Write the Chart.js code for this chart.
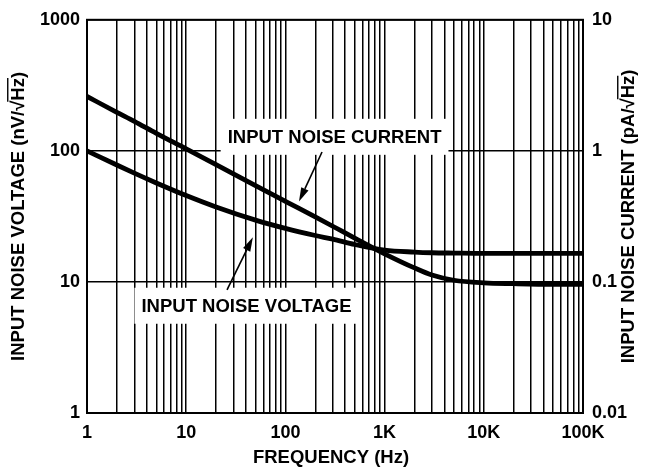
<!DOCTYPE html>
<html><head><meta charset="utf-8">
<script src="https://cdn.jsdelivr.net/npm/chart.js@4"></script>
<style>html,body{margin:0;padding:0;background:#fff}#wrap{width:650px;height:468px;position:relative}</style>
</head><body><div id="wrap"><canvas id="c" width="650" height="468" style="width:650px;height:468px"></canvas></div>
<script>
// ---- data ----
const frequencies = [1,2,3,5,10,20,50,100,200,300,500,1000,2000,3000,5000,10000,20000,50000,100000];
const noiseVoltage = [100,78,67.6,56.9,45.6,37.3,29.6,25.6,22.6,21.2,19.3,17.5,16.9,16.7,16.6,16.5,16.5,16.5,16.5]; // nV/√Hz
const noiseCurrent = [2.6,1.97,1.68,1.36,1.035,0.785,0.543,0.412,0.313,0.266,0.216,0.164,0.128,0.113,0.103,0.0984,0.097,0.096,0.096]; // pA/√Hz
const xTickValues = [1,10,100,1000,10000,100000];
const xTickLabels = ['1','10','100','1K','10K','100K'];
const yLeftTickValues = [1,10,100,1000];
const yLeftTickLabels = ['1','10','100','1000'];
const yRightTickValues = [0.01,0.1,1,10];
const yRightTickLabels = ['0.01','0.1','1','10'];
const xTitle = 'FREQUENCY (Hz)';
const yLeftTitle = 'INPUT NOISE VOLTAGE (nV/\u221AHz)';
const yRightTitle = 'INPUT NOISE CURRENT (pA/\u221AHz)';
const currentLabel = {text:'INPUT NOISE CURRENT', f:313, v:128, arrowFrom:[234,98], arrowTo:[137,41]};
const voltageLabel = {text:'INPUT NOISE VOLTAGE', f:40.5, v:6.58, arrowFrom:[25.8,8.7], arrowTo:[47,21.9]};

// grid positions (every integer multiple within each decade)
const xGridValues = [];
for (let d = 1; d < 100000; d *= 10) for (let m = 1; m < 10; m++) xGridValues.push(m*d);
xGridValues.push(100000);

const FAM = '"Liberation Sans", Arial, Helvetica, sans-serif';
const tickFont = {family: FAM, size: 18, weight: 'bold'};
const FS = 18.5;
const TFONT = 'bold ' + FS + 'px ' + FAM;

function drawRotTitle(ctx, text, cx, cy) {
  ctx.save();
  ctx.translate(cx, cy);
  ctx.rotate(-Math.PI/2);
  ctx.font = TFONT;
  ctx.fillStyle = '#000'; ctx.strokeStyle = '#000';
  ctx.textBaseline = 'alphabetic'; ctx.textAlign = 'left';
  const w = ctx.measureText(text).width;
  const by = FS*0.36;
  ctx.fillText(text, -w/2, by);
  const idx = text.indexOf('Hz');
  const pre = ctx.measureText(text.slice(0, idx)).width;
  const hz = ctx.measureText('Hz').width;
  ctx.beginPath();
  ctx.moveTo(-w/2 + pre - 1, by - FS*0.86);
  ctx.lineTo(-w/2 + pre + hz, by - FS*0.86);
  ctx.lineWidth = 1.4; ctx.stroke();
  ctx.restore();
}

function arrow(ctx, x1, y1, x2, y2) {
  const ang = Math.atan2(y2-y1, x2-x1);
  const L = 14, W = 4;
  const bx = x2 - L*Math.cos(ang), by = y2 - L*Math.sin(ang);
  ctx.beginPath(); ctx.moveTo(x1, y1); ctx.lineTo(bx, by);
  ctx.lineWidth = 1.6; ctx.stroke();
  ctx.beginPath();
  ctx.moveTo(x2, y2);
  ctx.lineTo(bx + W*Math.sin(ang), by - W*Math.cos(ang));
  ctx.lineTo(bx - W*Math.sin(ang), by + W*Math.cos(ang));
  ctx.closePath(); ctx.fill();
}

const decor = {
  id: 'decor',
  afterDatasetsDraw(chart) {
    const ctx = chart.ctx, a = chart.chartArea;
    const sx = chart.scales.x, sy = chart.scales.yL;
    ctx.save();
    ctx.strokeStyle = '#000'; ctx.lineWidth = 2;
    ctx.strokeRect(a.left, a.top, a.right - a.left, a.bottom - a.top);
    ctx.font = TFONT; ctx.fillStyle = '#000'; ctx.strokeStyle = '#000';
    ctx.textAlign = 'center'; ctx.textBaseline = 'middle';
    for (const lb of [currentLabel, voltageLabel]) {
      const cx = sx.getPixelForValue(lb.f), cy = sy.getPixelForValue(lb.v);
      const w = ctx.measureText(lb.text).width;
      ctx.fillStyle = '#fff';
      ctx.fillRect(cx - w/2 - 7, cy - 18, w + 14, 36);
      ctx.fillStyle = '#000';
      ctx.fillText(lb.text, cx, cy + 1);
      arrow(ctx, sx.getPixelForValue(lb.arrowFrom[0]), sy.getPixelForValue(lb.arrowFrom[1]),
                 sx.getPixelForValue(lb.arrowTo[0]), sy.getPixelForValue(lb.arrowTo[1]));
    }
    ctx.restore();
  },
  afterDraw(chart) {
    const ctx = chart.ctx, a = chart.chartArea;
    const midY = (a.top + a.bottom)/2;
    drawRotTitle(ctx, yLeftTitle, 17, midY);
    drawRotTitle(ctx, yRightTitle, 627, midY);
    ctx.save();
    ctx.font = TFONT; ctx.fillStyle = '#000';
    ctx.textAlign = 'center'; ctx.textBaseline = 'middle';
    ctx.fillText(xTitle, (a.left + a.right)/2 - 4, 458);
    ctx.restore();
  }
};

new Chart(document.getElementById('c'), {
  type: 'line',
  data: {
    datasets: [
      {label: 'INPUT NOISE VOLTAGE', yAxisID: 'yL',
       data: frequencies.map((f,i) => ({x: f, y: noiseVoltage[i]})),
       borderColor: '#000', borderWidth: 4.8, pointRadius: 0, fill: false,
       cubicInterpolationMode: 'monotone'},
      {label: 'INPUT NOISE CURRENT', yAxisID: 'yR',
       data: frequencies.map((f,i) => ({x: f, y: noiseCurrent[i]})),
       borderColor: '#000', borderWidth: 4.8, pointRadius: 0, fill: false,
       cubicInterpolationMode: 'monotone'}
    ]
  },
  options: {
    responsive: false, animation: false, devicePixelRatio: 1,
    layout: {padding: {top: 17, left: 0, right: 0, bottom: 0}},
    plugins: {legend: {display: false}, tooltip: {enabled: false}},
    scales: {
      x: {
        type: 'logarithmic', min: 1, max: 100000,
        afterBuildTicks: s => { s.ticks = xGridValues.map(v => ({value: v, major: xTickValues.includes(v)})); },
        afterFit: s => { s.height = 55; },
        ticks: {autoSkip: false, maxRotation: 0, minRotation: 0, color: '#000', font: tickFont, padding: 9,
          callback: v => { const i = xTickValues.indexOf(v); return i >= 0 ? xTickLabels[i] : ''; }},
        grid: {color: '#000', lineWidth: 1.5, drawTicks: false},
        border: {display: false}
      },
      yL: {
        type: 'logarithmic', position: 'left', min: 1, max: 1000,
        afterBuildTicks: s => { s.ticks = yLeftTickValues.map(v => ({value: v, major: true})); },
        afterFit: s => { s.width = 87; },
        ticks: {color: '#000', font: tickFont, padding: 7,
          callback: v => { const i = yLeftTickValues.indexOf(v); return i >= 0 ? yLeftTickLabels[i] : ''; }},
        grid: {color: '#000', lineWidth: 1.5, drawTicks: false},
        border: {display: false}
      },
      yR: {
        type: 'logarithmic', position: 'right', min: 0.01, max: 10,
        afterBuildTicks: s => { s.ticks = yRightTickValues.map(v => ({value: v, major: true})); },
        afterFit: s => { s.width = 67; },
        ticks: {color: '#000', font: tickFont, padding: 9,
          callback: v => { const i = yRightTickValues.findIndex(t => Math.abs(t - v) < t*1e-6); return i >= 0 ? yRightTickLabels[i] : ''; }},
        grid: {display: false, drawTicks: false},
        border: {display: false}
      }
    }
  },
  plugins: [decor]
});
</script>
</body></html>
